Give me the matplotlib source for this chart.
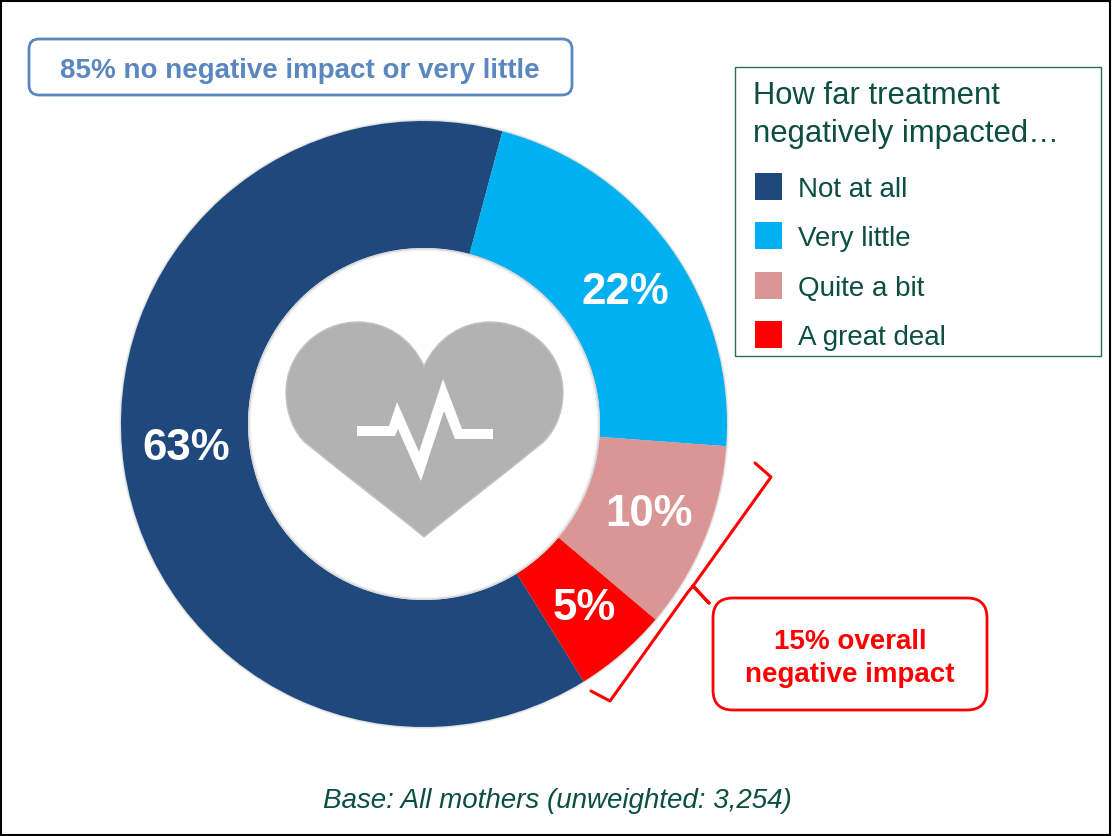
import matplotlib.pyplot as plt
from matplotlib.patches import FancyBboxPatch, PathPatch, Polygon, Rectangle
from matplotlib.path import Path

plt.rcParams['font.family'] = ['Liberation Sans', 'DejaVu Sans']

W, H = 1112, 837

categories = ["Not at all", "Very little", "Quite a bit", "A great deal"]
values = [63, 22, 10, 5]
colors = ["#1f497d", "#00b0f0", "#d99694", "#ff0000"]
legend_title = "How far treatment\nnegatively impacted…"
top_note = "85% no negative impact or very little"
side_note = "15% overall\nnegative impact"
base_note = "Base: All mothers (unweighted: 3,254)"

green = "#0b4f3f"


def fy(y):
    # picture pixels run downwards, the axes upwards
    return H - y


def rounded_box(x0, y0, x1, y1, r, color, lw):
    box = FancyBboxPatch((x0 + r, fy(y1) + r), x1 - x0 - 2 * r, y1 - y0 - 2 * r,
                         boxstyle="round,pad=%g,rounding_size=%g" % (r, r),
                         fc="white", ec=color, lw=lw)
    ax.add_patch(box)


fig = plt.figure(figsize=(W / 100, H / 100), dpi=100)
ax = fig.add_axes([0, 0, 1, 1])
ax.set_xlim(0, W)
ax.set_ylim(0, H)

# outer frame
ax.add_patch(Rectangle((1, 1), W - 3, H - 3, fc="white", ec="black", lw=1.5))

# soft shadow round the ring
for extra, grey in [(2, "#f0f0f0"), (1, "#dddddd")]:
    ax.pie([1], radius=303 + extra, center=(424, fy(425)), colors=[grey], frame=True)

# donut
wedges, _ = ax.pie(values, colors=colors, startangle=-58.2, counterclock=False,
                   radius=303, center=(424, fy(425)), frame=True,
                   wedgeprops=dict(width=303 - 176, lw=0))
for r, grey in [(176, "#d8d8d8"), (174.5, "#f2f2f2"), (173, "white")]:
    ax.pie([1], radius=r, center=(424, fy(425)), colors=[grey], frame=True)

ax.set_xlim(0, W)
ax.set_ylim(0, H)
ax.set_aspect("auto")
ax.axis("off")

# value labels
label_pos = [(186, 449), (625, 293), (649, 515), (584, 609)]
for v, (x, y) in zip(values, label_pos):
    ax.text(x, fy(y), "%d%%" % v, color="white", fontsize=31.5, fontweight="bold",
            ha="center", va="center")

# heart icon
heart = [
    (424, 367), (411, 339), (386, 323), (358, 323),
    (318, 323), (286, 355), (286, 393),
    (286, 416), (295, 435.5), (307, 445),
    (350, 480), (390, 510), (424, 538),
    (458, 510), (498, 480), (541, 445),
    (553, 435.5), (563, 416), (563, 393),
    (563, 355), (531, 323), (490, 323),
    (462, 323), (437, 339), (424, 367),
]
codes = [Path.MOVETO] + [Path.CURVE4] * (len(heart) - 1)
ax.add_patch(PathPatch(Path([(x, fy(y)) for x, y in heart], codes),
                       fc="#b2b2b2", ec="#c4c4c4", lw=1))
pulse = [(357, 427), (389, 427), (397, 403), (419, 453), (443, 380), (462, 430),
         (493, 430), (493, 440), (455, 440), (444, 412), (421, 482), (398, 430),
         (395, 437), (357, 437)]
ax.add_patch(Polygon([(x, fy(y)) for x, y in pulse], fc="white", ec="none"))

# top note
rounded_box(29, 40, 572, 96, 10, "#5b87c0", 2)
ax.text(300, fy(71), top_note, color="#5b87c0", fontsize=20, fontweight="bold",
        ha="center", va="center")

# legend
ax.add_patch(Rectangle((735, fy(357)), 366, 289, fc="white", ec="#2f6b5c", lw=1))
ax.text(753, fy(115), legend_title, color=green, fontsize=22.3, ha="left",
        va="center", linespacing=1.35)
legend_y = [187, 236, 286, 335]
for name, c, y in zip(categories, colors, legend_y):
    ax.add_patch(Rectangle((755, fy(y + 13.5)), 27, 27, fc=c, ec="none"))
    ax.text(798, fy(y + 3), name, color=green, fontsize=20, ha="left", va="center")

# bracket
bracket = [(755, 464), (771, 478), (693, 587), (709, 604), (693, 587), (688, 593),
           (610, 702), (591, 692)]
ax.plot([x for x, y in bracket], [fy(y) for x, y in bracket], color="#ff0000",
        lw=2.2, solid_joinstyle="round", solid_capstyle="round")

# side note
rounded_box(713, 599, 987, 711, 20, "#ff0000", 2)
ax.text(850, fy(659), side_note, color="#ff0000", fontsize=20, fontweight="bold",
        ha="center", va="center", linespacing=1.35)

ax.text(557, fy(801), base_note, color=green, fontsize=20, style="italic",
        ha="center", va="center")

fig.savefig("out.png", dpi=100)
